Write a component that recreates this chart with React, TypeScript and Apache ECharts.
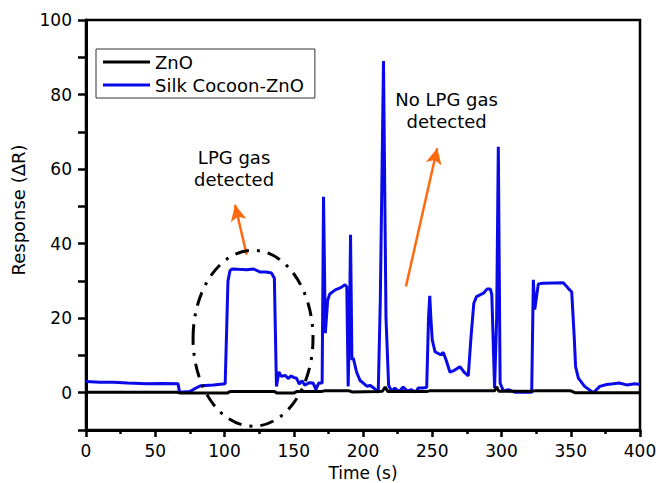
import React, { useEffect, useRef } from "react";
import * as echarts from "echarts";

// Silk Cocoon-ZnO response (blue)
const timeSilk = [0, 10, 20, 30, 44, 55, 66.5, 67.5, 75, 80, 83, 92, 100.5, 102.5, 104, 105.5, 110, 116, 121, 125.5, 130, 134, 136, 137.5, 139.3, 141, 144, 146, 148, 150, 152, 154, 156, 158, 161, 164, 166, 168, 170.5, 171.5, 172.8, 174.5, 176, 180, 184, 187, 188.3, 189.3, 190.3, 191, 192, 193, 195.4, 198, 200.2, 203, 205, 208, 211, 212.5, 214.8, 216.6, 218.5, 220.5, 223, 226, 229, 232, 235, 238, 240, 243, 246, 247.3, 248.2, 249, 250, 252, 256, 258, 260, 262.8, 266, 270, 273, 276, 278, 280, 282, 287, 289.5, 292, 293, 295, 296.5, 297.7, 299, 301.3, 305, 310, 321.8, 323, 324, 326.6, 330, 344.6, 348.2, 350.7, 352.5, 353.5, 355.5, 360, 366.3, 371, 376, 380.7, 385, 390.4, 396.4, 400];
const responseSilk = [3, 2.8, 2.8, 2.6, 2.4, 2.5, 2.4, 0.1, 0.3, 1.4, 1.9, 2.1, 2.4, 30, 32.8, 33.2, 33.1, 33, 33.2, 32.4, 32.4, 32.1, 30.7, 1.7, 5.6, 4.4, 4.6, 3.8, 4.5, 4.1, 3.9, 2.3, 3.2, 2.0, 2.7, 2.6, 0.9, 2.6, 2.6, 52.6, 16, 24.8, 26.5, 27.6, 28.2, 29, 28.4, 1.7, 20, 42.4, 8.8, 9.3, 5.5, 3.2, 2.6, 1.7, 2, 1.2, 0.1, 25, 89, 20, 2, 0.5, 1.2, 0.3, 1.5, 0.5, 0.8, 0.2, 1.3, 1.3, 1.4, 20, 26, 20, 14.2, 11, 10.2, 10.8, 8.8, 5.5, 6, 7, 5.5, 4.5, 15, 24, 25.8, 26.7, 27.8, 27.8, 26.3, 1.3, 20, 66, 2.6, 0.5, 0.8, 0.1, 0.1, 30.3, 22.3, 29.2, 29.4, 29.5, 28, 27, 15, 7, 3.9, 1.7, 0, 1.7, 2.2, 2.4, 2.6, 2.1, 2.4, 2.2];

// ZnO response (black)
const timeZnO = [0, 66, 68, 102, 104, 136, 138, 150, 152, 170, 172, 190, 192, 210, 214, 216, 218, 246, 248, 295, 296.5, 298, 322, 324, 350, 353, 400];
const responseZnO = [0.1, 0.1, -0.1, -0.1, 0.35, 0.35, -0.1, -0.1, 0.3, 0.3, 0.5, 0.5, 0.2, 0.3, 0.4, 1.5, 0.3, 0.3, 0.5, 0.5, 1.6, 0.4, 0.4, 0.5, 0.5, 0, 0];

const seriesNames = ["ZnO", "Silk Cocoon-ZnO"];
const xTickValues = [0, 50, 100, 150, 200, 250, 300, 350, 400];
const yTickValues = [0, 20, 40, 60, 80, 100];
const xAxisTitle = "Time (s)";
const yAxisTitle = "Response (ΔR)";

// Annotations (data coordinates)
const annotationTexts = ["LPG gas\ndetected", "No LPG gas\ndetected"];
const annotationAt = [[106.9, 60.2], [260.4, 75.6]];
const arrowFrom = [[116, 37], [231, 28.5]];
const arrowTo = [[107.6, 50.4], [253.6, 65.6]];
const ellipseCenter = [120.6, 14.6];
const ellipseRadius = [43.3, 23.6];

const FONT = "DejaVu Sans";
const ORANGE = "#ff6a10";
const BLUE = "#0a0ae8";

export default function App() {
  const ref = useRef<HTMLDivElement>(null);
  useEffect(() => {
    if (!ref.current) return;
    const chart = echarts.init(ref.current, undefined, { renderer: "svg" });
    const zip = (xs: number[], ys: number[]) => xs.map((x, i) => [x, ys[i]]);
    chart.setOption({
      animation: false,
      grid: {
        left: 86,
        right: 19,
        top: 20,
        bottom: 53,
        outerBoundsMode: "none",
        containLabel: false,
        show: true,
        borderColor: "#000",
        borderWidth: 2.5,
      },
      legend: {
        left: 96,
        top: 49,
        orient: "vertical",
        data: seriesNames,
        icon: "rect",
        itemWidth: 47,
        itemHeight: 3,
        itemGap: 5,
        borderColor: "#333",
        borderWidth: 1,
        padding: [4, 11, 4, 7],
        textStyle: { fontFamily: FONT, fontSize: 18, color: "#000" },
      },
      xAxis: {
        type: "value",
        min: 0,
        max: 400,
        interval: 50,
        axisLine: { onZero: false, lineStyle: { color: "#000", width: 3 } },
        axisTick: { length: 7, lineStyle: { color: "#000", width: 2.5 } },
        minorTick: { show: true, splitNumber: 2, length: 4, lineStyle: { color: "#000", width: 2.5 } },
        axisLabel: {
          margin: 12,
          fontFamily: FONT,
          fontSize: 17,
          lineHeight: 18,
          color: "#000",
          formatter: (v: number) => (xTickValues.includes(v) ? String(v) : ""),
        },
        splitLine: { show: false },
      },
      yAxis: {
        type: "value",
        min: -10,
        max: 100,
        interval: 10,
        axisLine: { show: true, lineStyle: { color: "#000", width: 3 } },
        axisTick: { show: true, length: 8, lineStyle: { color: "#000", width: 2.5 } },
        axisLabel: {
          margin: 14,
          fontFamily: FONT,
          fontSize: 17,
          color: "#000",
          formatter: (v: number) => (yTickValues.includes(v) ? String(v) : ""),
        },
        splitLine: { show: false },
      },
      series: [
        {
          name: seriesNames[0],
          type: "line",
          data: zip(timeZnO, responseZnO),
          showSymbol: false,
          color: "#000",
          lineStyle: { color: "#000", width: 3 },
          z: 3,
        },
        {
          name: seriesNames[1],
          type: "line",
          data: zip(timeSilk, responseSilk),
          showSymbol: false,
          color: BLUE,
          lineStyle: { color: BLUE, width: 3 },
          z: 2,
          markLine: {
            silent: true,
            symbol: ["none", "arrow"],
            symbolSize: [12, 16],
            label: { show: false },
            lineStyle: { color: ORANGE, width: 2.5, type: "solid" },
            data: arrowFrom.map((f, i) => [{ coord: f }, { coord: arrowTo[i] }]),
          },
        },
      ],
    });

    const toPx = (p: number[]) => chart.convertToPixel({ gridIndex: 0 }, p) as number[];
    const c = toPx(ellipseCenter);
    const e = toPx([ellipseCenter[0] + ellipseRadius[0], ellipseCenter[1] + ellipseRadius[1]]);
    const graphics: any[] = [
      {
        type: "ellipse",
        shape: { cx: c[0], cy: c[1], rx: Math.abs(e[0] - c[0]), ry: Math.abs(e[1] - c[1]) },
        style: { fill: "none", stroke: "#000", lineWidth: 3, lineDash: [14, 8, 3, 8] },
        z: 10,
      },
      {
        type: "text",
        x: 18,
        y: 210,
        rotation: Math.PI / 2,
        style: {
          text: yAxisTitle,
          fontFamily: FONT,
          fontSize: 18,
          fill: "#000",
          align: "center",
          verticalAlign: "middle",
        },
      },
      {
        type: "text",
        x: 363,
        y: 473,
        style: {
          text: xAxisTitle,
          fontFamily: FONT,
          fontSize: 17,
          lineHeight: 18,
          fill: "#000",
          align: "center",
          verticalAlign: "middle",
        },
      },
    ];
    annotationTexts.forEach((t, i) => {
      const p = toPx(annotationAt[i]);
      graphics.push({
        type: "text",
        x: p[0],
        y: p[1],
        style: {
          text: t,
          fontFamily: FONT,
          fontSize: 18,
          lineHeight: 22,
          fill: "#000",
          align: "center",
          verticalAlign: "middle",
        },
        z: 10,
      });
    });
    chart.setOption({ graphic: graphics });

    return () => chart.dispose();
  }, []);
  return (
    <div
      ref={ref}
      style={{ position: "fixed", left: 0, top: 0, width: 659, height: 483, background: "#fff" }}
    />
  );
}
